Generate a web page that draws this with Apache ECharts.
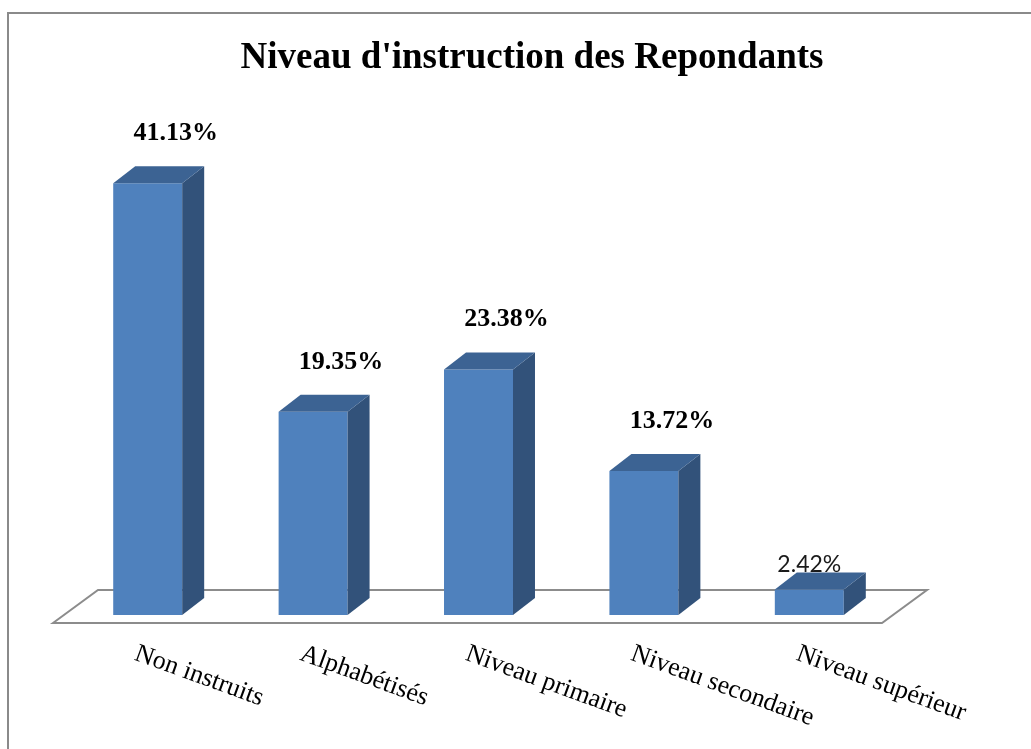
<!DOCTYPE html>
<html>
<head>
<meta charset="utf-8">
<script src="https://cdn.jsdelivr.net/npm/echarts@6/dist/echarts.min.js"></script>
<style>
  html, body { margin: 0; padding: 0; background: #fff; }
  #chart { width: 1031px; height: 749px; }
</style>
</head>
<body>
<div id="chart"></div>
<script>
// data
var categories = ['Non instruits', 'Alphabétisés', 'Niveau primaire', 'Niveau secondaire', 'Niveau supérieur'];
var percents = [41.13, 19.35, 23.38, 13.72, 2.42];

// 3d look
var FRONT = '#4F81BD', SIDE = '#32527A', TOP = '#3C6393';
var DX = 22, DY = -17;      // bar depth
var SHIFT = 12;             // bars sit a bit right of the label anchors

var chart = echarts.init(document.getElementById('chart'));

function renderBar(params, api) {
  var idx = api.value(0), val = api.value(1);
  var p = api.coord([idx, val]);
  var base = api.coord([idx, 0]);
  var bw = api.size([1, 0])[0] * 0.417;
  var cx = p[0] + SHIFT;
  var l = cx - bw / 2, r = cx + bw / 2, t = p[1], b = base[1];

  var small = val < 5;  // last label was left in the default style
  var label = {
    type: 'text',
    style: small ? {
      text: val.toFixed(2) + '%', x: cx, y: t + DY + 3,
      fill: '#1a1a1a', font: '23px Lato, "Liberation Sans", sans-serif',
      align: 'center', verticalAlign: 'bottom'
    } : {
      text: val.toFixed(2) + '%', x: cx + 28, y: t + DY - 20,
      fill: '#000', font: 'bold 26px "Liberation Serif", serif',
      align: 'center', verticalAlign: 'bottom'
    }
  };

  return {
    type: 'group',
    children: [
      { type: 'rect', shape: { x: l, y: t, width: bw, height: b - t }, style: { fill: FRONT } },
      { type: 'polygon', shape: { points: [[r, b], [r + DX, b + DY], [r + DX, t + DY], [r, t]] }, style: { fill: SIDE } },
      { type: 'polygon', shape: { points: [[l, t], [l + DX, t + DY], [r + DX, t + DY], [r, t]] }, style: { fill: TOP } },
      label
    ]
  };
}

function renderFloor(params, api) {
  var cs = params.coordSys;
  var y0 = api.coord([0, 0])[1];
  var fy = y0 + 8, by = y0 - 25;
  var fl = cs.x, fr = cs.x + cs.width + 2;
  var off = 45;
  return {
    type: 'polygon',
    shape: { points: [[fl, fy], [fl + off, by], [fr + off, by], [fr, fy]] },
    style: { fill: '#fff', stroke: '#8c8c8c', lineWidth: 2 }
  };
}

chart.setOption({
  animation: false,
  backgroundColor: '#fff',
  title: {
    text: "Niveau d'instruction des Repondants",
    left: 527,
    textAlign: 'center',
    top: 35,
    textStyle: { fontFamily: 'Liberation Serif', fontWeight: 'bold', fontSize: 37, color: '#000' }
  },
  graphic: [{
    type: 'polyline',
    shape: { points: [[8, 749], [8, 13], [1031, 13]] },
    style: { stroke: '#8a8a8a', lineWidth: 2, fill: null }
  }],
  grid: { left: 53, right: 151, top: 142.5, bottom: 134 },
  xAxis: {
    type: 'category',
    data: categories,
    axisLine: { show: false },
    axisTick: { show: false },
    axisLabel: {
      rotate: -20,
      margin: 38,
      interval: 0,
      fontFamily: 'Liberation Serif',
      fontSize: 26,
      color: '#000'
    }
  },
  yAxis: {
    type: 'value',
    min: 0,
    max: 45,
    show: false
  },
  series: [
    {
      type: 'custom',
      renderItem: renderFloor,
      data: [[0, 0]],
      silent: true,
      z: 1
    },
    {
      type: 'custom',
      renderItem: renderBar,
      data: percents.map(function (v, i) { return [i, v]; }),
      z: 2
    }
  ]
});
</script>
</body>
</html>
